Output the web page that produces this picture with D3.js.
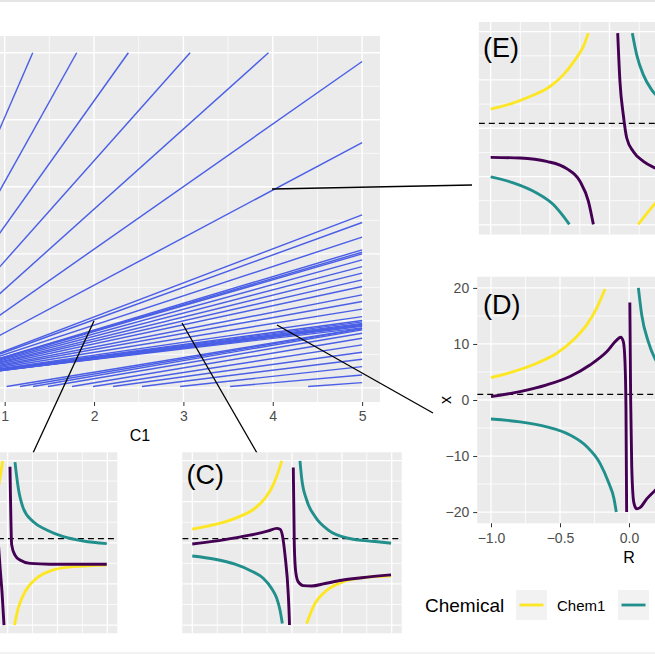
<!DOCTYPE html>
<html><head><meta charset="utf-8">
<script src="https://cdn.jsdelivr.net/npm/d3@7"></script>
<style>html,body{margin:0;padding:0;background:#fff;} svg{display:block;font-family:"Liberation Sans",Arial,Helvetica,sans-serif;}</style>
</head><body>
<svg id="c" width="655" height="655"></svg>
<script>
// ---------------- data ----------------
const mainXTicks = [1, 2, 3, 4, 5];
const mainYMajor = [0, 1, 2, 3, 4, 5];
const mainYMinor = [0.5, 1.5, 2.5, 3.5, 4.5];
const mainXMinor = [1.5, 2.5, 3.5, 4.5];
// steep lines: [xStart, yStart, xEnd, yEnd]
const fanLines = [
  [0.94, 3.85, 1.314, 5],
  [0.94, 2.93, 1.806, 5],
  [0.94, 2.30, 2.384, 5],
  [0.94, 1.80, 3.075, 5],
  [0.94, 1.40, 3.952, 5],
  [0.94, 1.08, 5, 4.87],
  [0.94, 0.78, 5, 3.66]
];
// bundle lines from left edge to C1 = 5
const bundleStartY = [0.522,0.504,0.473,0.440,0.436,0.431,0.418,0.401,0.386,0.372,0.355,0.336,0.321,0.303,0.285,0.276,0.273,0.269,0.266,0.263,0.258,0.256,0.254];
const bundleEndY   = [2.582,2.467,2.249,2.060,2.025,2.000,1.910,1.810,1.712,1.612,1.512,1.388,1.288,1.175,1.064,1.007,0.985,0.963,0.940,0.918,0.896,0.93,0.95];
// lines starting at the floor
const floorStartX = [4.396,3.523,2.963,2.537,2.213,1.989,1.754,1.485,1.317,1.171,1.022];
const floorEndY   = [0.079,0.194,0.318,0.428,0.533,0.642,0.742,0.816,0.866,0.881,0.888];
const floorY = 0.022;

const chemNames = ["Chem1", "Chem2", "Chem3"];
const chemColors = ["#FDE725", "#21908C", "#440154"];
const insetXMajor = [-1, -0.5, 0, 0.5, 1];
const insetXMinor = [-0.75, -0.25, 0.25, 0.75];
const insetYMajor = [-20, -10, 0, 10, 20];
const insetYMinor = [-15, -5, 5, 15];
const refLineY = 1;

const curvesE = {
  Chem1: [[[-1.0,3.97],[-0.838,5.0],[-0.669,6.57],[-0.501,8.64],[-0.389,11.05],[-0.29,14.15],[-0.221,16.9],[-0.178,19.7]],
          [[0.242,-19.9],[0.383,-15.6],[0.45,-13.8]]],
  Chem2: [[[-1.0,-10.08],[-0.81,-11.3],[-0.613,-13.4],[-0.473,-15.8],[-0.389,-18.2],[-0.338,-19.9]],
          [[0.192,19.7],[0.229,15.2],[0.285,11.05],[0.355,7.95],[0.42,6.2]]],
  Chem3: [[[-1.0,-6.03],[-0.753,-6.16],[-0.529,-6.86],[-0.36,-8.37],[-0.248,-11.0],[-0.178,-15.1],[-0.136,-19.9]],
          [[0.069,19.7],[0.088,9.67],[0.116,2.79],[0.145,-2.02],[0.2,-4.79],[0.285,-6.86],[0.383,-8.22],[0.45,-8.9]]]
};
const curvesD = {
  Chem1: [[[-1.0,4.0],[-0.838,5.05],[-0.669,6.55],[-0.524,8.34],[-0.404,10.7],[-0.307,13.4],[-0.234,16.4],[-0.174,19.8]]],
  Chem2: [[[-1.0,-3.4],[-0.79,-3.9],[-0.596,-4.8],[-0.428,-6.25],[-0.307,-8.3],[-0.21,-11.3],[-0.15,-14.6],[-0.109,-17.6],[-0.092,-20]],
          [[0.068,20],[0.092,15.2],[0.14,10.4],[0.188,7.4],[0.25,5.6]]],
  Chem3: [[[-1.0,0.6],[-0.79,1.5],[-0.596,2.7],[-0.428,4.2],[-0.283,6.25],[-0.162,8.6],[-0.089,10.7],[-0.06,11.2],[-0.041,10.4],[-0.029,6.8],[-0.022,-1.4],[-0.017,-20]],
          [[0.006,17.4],[0.012,0],[0.02,-12],[0.035,-18.3],[0.055,-19.4],[0.08,-19.2],[0.13,-17.6],[0.19,-16.1],[0.25,-14.6]]]
};
const curvesC = {
  Chem1: [[[-1.0,3.3],[-0.84,4.1],[-0.672,5.1],[-0.505,6.6],[-0.371,8.4],[-0.271,10.8],[-0.188,14.1],[-0.137,17.3],[-0.103,19.9]],
          [[0.147,-19.6],[0.231,-14.7],[0.331,-11.9],[0.498,-9.6],[0.699,-8.5],[0.993,-8.0]]],
  Chem2: [[[-1.0,-3.2],[-0.772,-4.0],[-0.572,-5.2],[-0.404,-6.9],[-0.288,-8.6],[-0.204,-11.1],[-0.153,-13.5],[-0.12,-16.4],[-0.097,-19.6]],
          [[0.08,19.9],[0.097,15.7],[0.147,10.4],[0.231,6.4],[0.364,3.1],[0.565,1.1],[0.833,0.3],[0.993,-0.1]]],
  Chem3: [[[-1.0,-0.3],[-0.772,0.4],[-0.572,1.2],[-0.371,2.1],[-0.238,2.9],[-0.153,3.5],[-0.12,3.3],[-0.097,1.9],[-0.07,-3.0],[-0.037,-12.7],[-0.027,-18.4],[-0.025,-20]],
          [[0.013,18.3],[0.023,-0.5],[0.037,-7.0],[0.063,-9.5],[0.113,-10.4],[0.198,-10.5],[0.331,-9.9],[0.498,-9.1],[0.699,-8.5],[0.993,-7.8]]]
};
const curvesB = {
  Chem1: [[[-0.1,12.5],[-0.076,15.8],[-0.05,19.9]],
          [[0.069,-20],[0.107,-15.9],[0.175,-11.9],[0.292,-8.6],[0.458,-6.6],[0.659,-5.8],[0.994,-5.4]]],
  Chem2: [[[0.074,19.6],[0.107,13.3],[0.157,8.4],[0.258,5.1],[0.392,3.1],[0.559,1.5],[0.759,0.44],[0.994,-0.2]]],
  Chem3: [[[-0.09,-1.0],[-0.076,-5.8],[-0.056,-12],[-0.036,-20]],
          [[0.024,18.5],[0.041,-0.5],[0.074,-3.0],[0.124,-4.2],[0.225,-5.0],[0.425,-5.2],[0.994,-5.2]]]
};

// ---------------- drawing ----------------
const svg = d3.select("#c");
const PANEL = "#EBEBEB";

// thin frame lines
svg.append("line").attr("x1",0).attr("x2",655).attr("y1",1).attr("y2",1).attr("stroke","#dcdcdc").attr("stroke-width",1.5);
svg.append("line").attr("x1",0).attr("x2",655).attr("y1",653).attr("y2",653).attr("stroke","#e6e6e6").attr("stroke-width",1);

// ---- main panel ----
const xM = d3.scaleLinear().domain([0.8, 5.2]).range([-13.2, 380]);
const yM = d3.scaleLinear().domain([-0.21, 5.25]).range([402, 36]);
const gM = svg.append("g");
gM.append("rect").attr("x", xM(0.8)).attr("y", yM(5.25)).attr("width", xM(5.2)-xM(0.8)).attr("height", yM(-0.21)-yM(5.25)).attr("fill", PANEL);
svg.append("clipPath").attr("id","clipM").append("rect").attr("x", xM(0.8)).attr("y", yM(5.25)).attr("width", xM(5.2)-xM(0.8)).attr("height", yM(-0.21)-yM(5.25));
const gridM = gM.append("g");
mainXMinor.forEach(v => gridM.append("line").attr("x1",xM(v)).attr("x2",xM(v)).attr("y1",yM(5.25)).attr("y2",yM(-0.21)).attr("stroke","#fff").attr("stroke-width",0.7));
mainYMinor.forEach(v => gridM.append("line").attr("y1",yM(v)).attr("y2",yM(v)).attr("x1",xM(0.8)).attr("x2",xM(5.2)).attr("stroke","#fff").attr("stroke-width",0.7));
mainXTicks.forEach(v => gridM.append("line").attr("x1",xM(v)).attr("x2",xM(v)).attr("y1",yM(5.25)).attr("y2",yM(-0.21)).attr("stroke","#fff").attr("stroke-width",1.4));
mainYMajor.forEach(v => gridM.append("line").attr("y1",yM(v)).attr("y2",yM(v)).attr("x1",xM(0.8)).attr("x2",xM(5.2)).attr("stroke","#fff").attr("stroke-width",1.4));

const allMain = [];
fanLines.forEach(l => allMain.push([[l[0], l[1]], [l[2], l[3]]]));
bundleStartY.forEach((s, i) => allMain.push([[0.94, s], [5, bundleEndY[i]]]));
floorStartX.forEach((s, i) => allMain.push([[s, floorY], [5, floorEndY[i]]]));
const lineM = d3.line().x(d => xM(d[0])).y(d => yM(d[1]));
gM.append("g").attr("clip-path","url(#clipM)").selectAll("path").data(allMain).join("path")
  .attr("d", lineM).attr("fill","none").attr("stroke","#4A5FE6").attr("stroke-width",1.45);

const axM = d3.axisBottom(xM).tickValues(mainXTicks).tickSize(4).tickPadding(5).tickFormat(d3.format("d"));
const axMg = svg.append("g").attr("transform", `translate(0,${yM(-0.21)})`).call(axM);
axMg.select(".domain").remove();
axMg.selectAll("line").attr("stroke","#333").attr("stroke-width",1);
axMg.selectAll("text").attr("fill","#4D4D4D").style("font-size","14px").style("font-family","Liberation Sans, Arial, sans-serif");
svg.append("text").attr("x",140).attr("y",441).attr("text-anchor","middle").attr("font-size",16).attr("fill","#000").text("C1");

// ---- connectors ----
const connectors = [
  [[272,189],[472,185]],
  [[94,321],[33,453]],
  [[182,323],[257,453]],
  [[277,325],[433,413]]
];
svg.append("g").selectAll("path").data(connectors).join("path")
  .attr("d", d => d3.line()(d)).attr("stroke","#000").attr("stroke-width",1.3).attr("fill","none");

// ---- inset helper ----
let clipN = 0;
function inset(xr, yr, curves, label, labelPos) {
  const x = d3.scaleLinear().domain([-1.1, 1.1]).range(xr);
  const y = d3.scaleLinear().domain([-22, 22]).range(yr);
  const g = svg.append("g");
  const x0 = xr[0], w = xr[1]-xr[0], y0 = yr[1], h = yr[0]-yr[1];
  g.append("rect").attr("x",x0).attr("y",y0).attr("width",w).attr("height",h).attr("fill",PANEL);
  const id = "clipI" + (clipN++);
  svg.append("clipPath").attr("id", id).append("rect").attr("x",x0).attr("y",y0).attr("width",w).attr("height",h);
  const gg = g.append("g").attr("clip-path", `url(#${id})`);
  insetXMinor.forEach(v => gg.append("line").attr("x1",x(v)).attr("x2",x(v)).attr("y1",y0).attr("y2",y0+h).attr("stroke","#fff").attr("stroke-width",0.8));
  insetYMinor.forEach(v => gg.append("line").attr("y1",y(v)).attr("y2",y(v)).attr("x1",x0).attr("x2",x0+w).attr("stroke","#fff").attr("stroke-width",0.8));
  insetXMajor.forEach(v => gg.append("line").attr("x1",x(v)).attr("x2",x(v)).attr("y1",y0).attr("y2",y0+h).attr("stroke","#fff").attr("stroke-width",1.3));
  insetYMajor.forEach(v => gg.append("line").attr("y1",y(v)).attr("y2",y(v)).attr("x1",x0).attr("x2",x0+w).attr("stroke","#fff").attr("stroke-width",1.3));
  gg.append("line").attr("x1",x0).attr("x2",x0+w).attr("y1",y(refLineY)).attr("y2",y(refLineY))
    .attr("stroke","#000").attr("stroke-width",1.3).attr("stroke-dasharray","6,4");
  const ln = d3.line().x(d => x(d[0])).y(d => y(d[1])).curve(d3.curveMonotoneX);
  chemNames.forEach((c, ci) => {
    (curves[c] || []).forEach(seg => {
      gg.append("path").attr("d", ln(seg)).attr("fill","none").attr("stroke", chemColors[ci])
        .attr("stroke-width", 2.9).attr("stroke-linecap","butt");
    });
  });
  if (label) svg.append("text").attr("x", labelPos[0]).attr("y", labelPos[1]).attr("font-size", 27).attr("fill","#000").text(label);
  return {x, y};
}

inset([478.8, 740.2], [234.5, 22], curvesE, "(E)", [483, 57]);
const D = inset([477.2, 780.8], [523.3, 276.7], curvesD, "(D)", [483, 314]);
inset([182.3, 401.7], [633.3, 452.3], curvesC, "(C)", [186.5, 483.5]);
inset([-102.1, 117.3], [633.3, 452.3], curvesB, null, null);

// D axes
const axDx = d3.axisBottom(D.x).tickValues([-1, -0.5, 0]).tickSize(4).tickPadding(6).tickFormat(d => d3.format(".1f")(d).replace("-", "−"));
const gDx = svg.append("g").attr("transform","translate(0,523.3)").call(axDx);
const axDy = d3.axisLeft(D.y).tickValues(insetYMajor).tickSize(4).tickPadding(4).tickFormat(d => String(d).replace("-", "−"));
const gDy = svg.append("g").attr("transform","translate(477.2,0)").call(axDy);
[gDx, gDy].forEach(g => {
  g.select(".domain").remove();
  g.selectAll("line").attr("stroke","#333").attr("stroke-width",1);
  g.selectAll("text").attr("fill","#4D4D4D").style("font-size","14px").style("font-family","Liberation Sans, Arial, sans-serif");
});
svg.append("text").attr("x", D.x(0)).attr("y", 563).attr("text-anchor","middle").attr("font-size",16).text("R");
svg.append("text").attr("transform","translate(451,400) rotate(-90)").attr("text-anchor","middle").attr("font-size",16).text("x");

// ---- legend ----
const lg = svg.append("g");
lg.append("text").attr("x",425).attr("y",612).attr("font-size",19).text("Chemical");
const keyX = [516, 618];
keyX.forEach((kx, i) => {
  lg.append("rect").attr("x",kx).attr("y",590).attr("width",31).attr("height",30).attr("fill","#F2F2F2");
  lg.append("line").attr("x1",kx+3.5).attr("x2",kx+27.5).attr("y1",605).attr("y2",605).attr("stroke",chemColors[i]).attr("stroke-width",2.8);
});
lg.append("text").attr("x",557).attr("y",610.5).attr("font-size",15).text(chemNames[0]);
</script>
</body></html>
